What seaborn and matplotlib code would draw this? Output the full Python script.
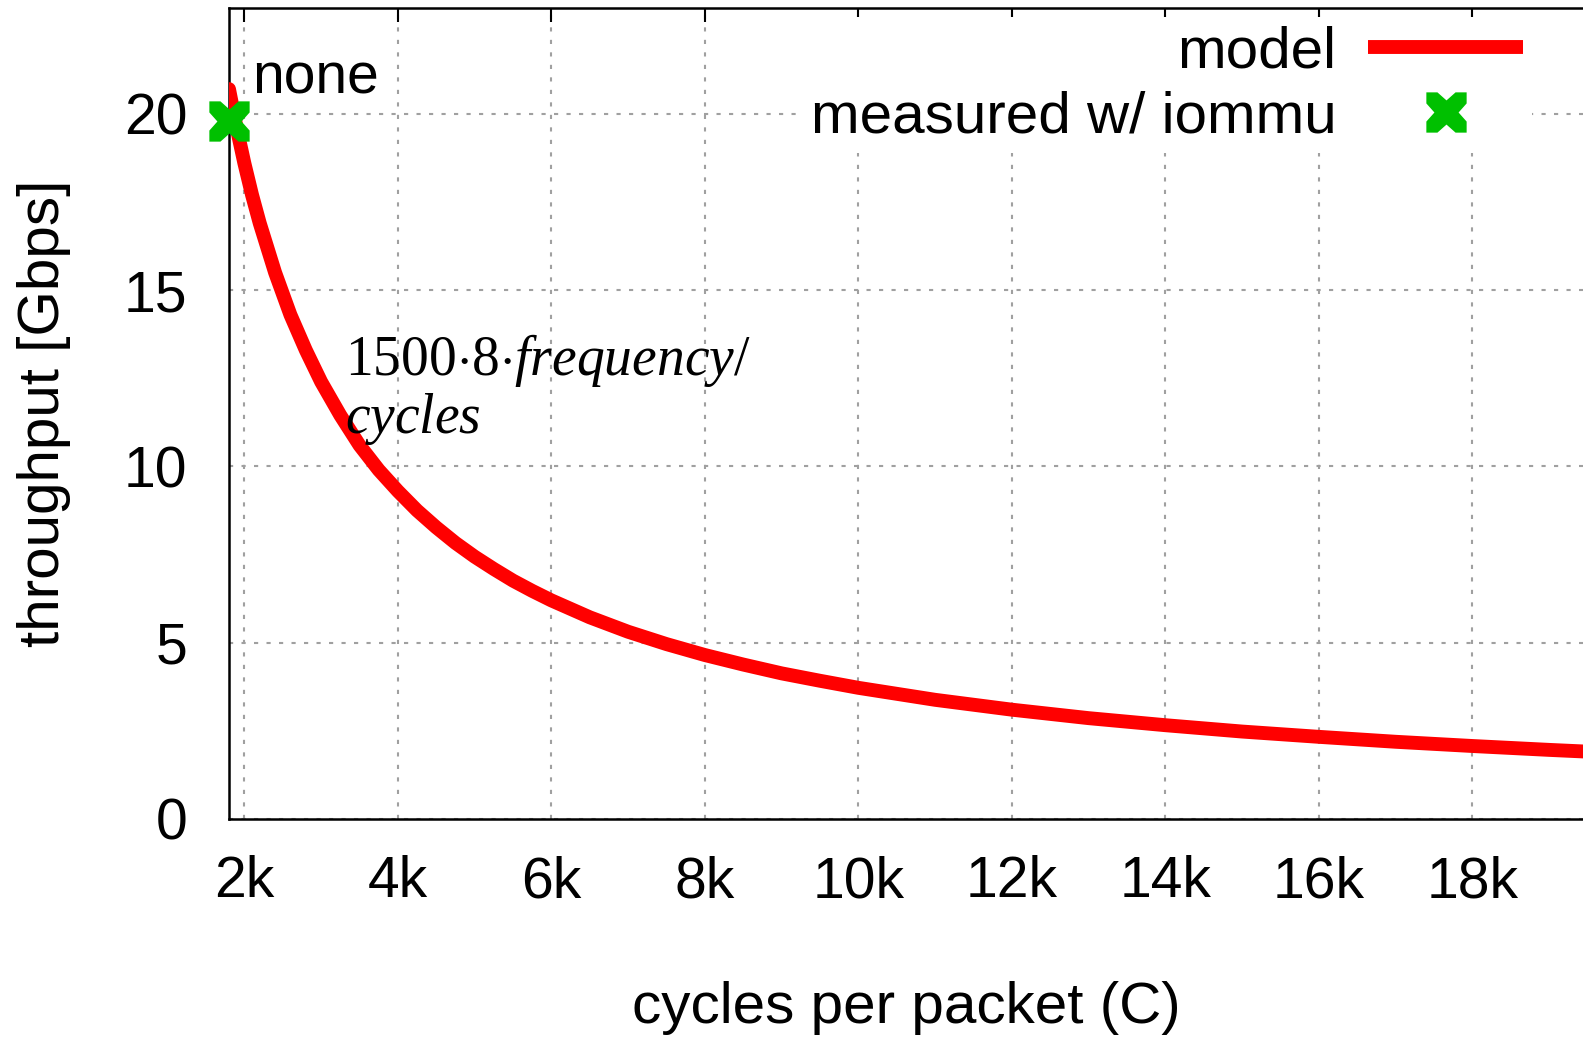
import matplotlib
matplotlib.use("Agg")
import matplotlib.pyplot as plt
from matplotlib.lines import Line2D
from matplotlib.path import Path
import numpy as np
import pandas as pd
import seaborn as sns

# model curve (cycles per packet -> Gbps)
model_cycles = [1800, 1900, 2000, 2100, 2200, 2300, 2400, 2500, 2600, 2800,
                3000, 3250, 3500, 3750, 4000, 4250, 4500, 4750, 5000, 5250,
                5500, 5750, 6000, 6500, 7000, 7500, 8000, 8500, 9000, 9500,
                10000, 11000, 12000, 13000, 14000, 15000, 16000, 17000, 18000,
                19000, 19500]
model_gbps = [20.7, 19.6, 18.6, 17.7, 16.9, 16.2, 15.5, 14.9, 14.3, 13.3,
              12.4, 11.45, 10.6, 9.9, 9.3, 8.75, 8.27, 7.83, 7.44, 7.09,
              6.76, 6.47, 6.2, 5.72, 5.31, 4.96, 4.65, 4.38, 4.13, 3.92,
              3.72, 3.38, 3.1, 2.86, 2.66, 2.48, 2.33, 2.19, 2.07,
              1.96, 1.91]

# measured point
meas_cycles = [1800]
meas_gbps = [19.8]
meas_labels = ["none"]

xticks = [2000, 4000, 6000, 8000, 10000, 12000, 14000, 16000, 18000]
xticklabels = ["2k", "4k", "6k", "8k", "10k", "12k", "14k", "16k", "18k"]
yticks = [0, 5, 10, 15, 20]

sns.set_style("white")
plt.rcParams["font.family"] = ["Liberation Sans", "DejaVu Sans"]
plt.rcParams["mathtext.fontset"] = "custom"
plt.rcParams["mathtext.rm"] = "Liberation Serif"
plt.rcParams["mathtext.it"] = "Liberation Serif:italic"
for k in ["text.color", "axes.labelcolor", "xtick.color", "ytick.color"]:
    plt.rcParams[k] = "black"

# gnuplot-like thick cross: square with a notch on each side
w, d = 0.45, 0.4
verts = [(-1, 1), (-w, 1), (0, 1 - d), (w, 1), (1, 1), (1, w), (1 - d, 0),
         (1, -w), (1, -1), (w, -1), (0, -1 + d), (-w, -1), (-1, -1),
         (-1, -w), (-1 + d, 0), (-1, w), (-1, 1)]
cross = Path(verts, [Path.MOVETO] + [Path.LINETO] * (len(verts) - 2) + [Path.CLOSEPOLY])

FS = 41
fig = plt.figure(figsize=(15.83, 10.39), dpi=100)
ax = fig.add_axes([229 / 1583, 1 - 819 / 1039, 1 - 229 / 1583, (819 - 8) / 1039])

df_model = pd.DataFrame({"cycles": model_cycles, "gbps": model_gbps})
df_meas = pd.DataFrame({"cycles": meas_cycles, "gbps": meas_gbps})

sns.lineplot(data=df_model, x="cycles", y="gbps", ax=ax, color="#ff0000",
             linewidth=10, zorder=3)
sns.scatterplot(data=df_meas, x="cycles", y="gbps", ax=ax, color="#00c000",
                marker=cross, s=29 ** 2, linewidth=0, zorder=4, clip_on=False)
for cx, cy, lab in zip(meas_cycles, meas_gbps, meas_labels):
    ax.annotate(lab, (cx, cy), xytext=(17, 11), textcoords="offset points",
                fontsize=FS, va="bottom", ha="left")

ax.text(3310, 13.0, r"$1500{\cdot}8{\cdot}frequency/$", fontsize=40,
        ha="left", va="center")
ax.text(3310, 11.35, r"$cycles$", fontsize=40, ha="left", va="center")

ax.set_xlim(1800, 19440)
ax.set_ylim(0, 23)
ax.set_xticks(xticks)
ax.set_xticklabels(xticklabels)
ax.set_yticks(yticks)
ax.tick_params(axis="both", direction="in", length=10, width=1.5,
               labelsize=FS, top=True, right=False)
ax.tick_params(axis="x", pad=26)
ax.tick_params(axis="y", pad=30)
ax.grid(True, color="#a0a0a0", linestyle=(0, (2, 4)), linewidth=1.5)
for s in ["left", "bottom", "top"]:
    ax.spines[s].set_linewidth(1.8)
    ax.spines[s].set_color("black")
ax.spines["right"].set_visible(False)

ax.set_xlabel("cycles per packet (C)", fontsize=42, labelpad=52)
ax.set_ylabel("throughput [Gbps]", fontsize=42, labelpad=38)

handles = [Line2D([], [], color="#ff0000", linewidth=10, solid_capstyle="butt"),
           Line2D([], [], color="#00c000", marker=cross, markersize=29,
                  linestyle="none", markeredgewidth=0)]
leg = ax.legend(handles, ["model", "measured w/ iommu"], loc="upper right",
                bbox_to_anchor=(0.984, 1.025), markerfirst=False, fontsize=42,
                handlelength=2.66, handletextpad=0.55, labelspacing=0.18,
                borderpad=0.15, frameon=True, fancybox=False, framealpha=1.0,
                facecolor="white", edgecolor="none")
leg.set_zorder(5)

fig.savefig("out.png", dpi=100)
